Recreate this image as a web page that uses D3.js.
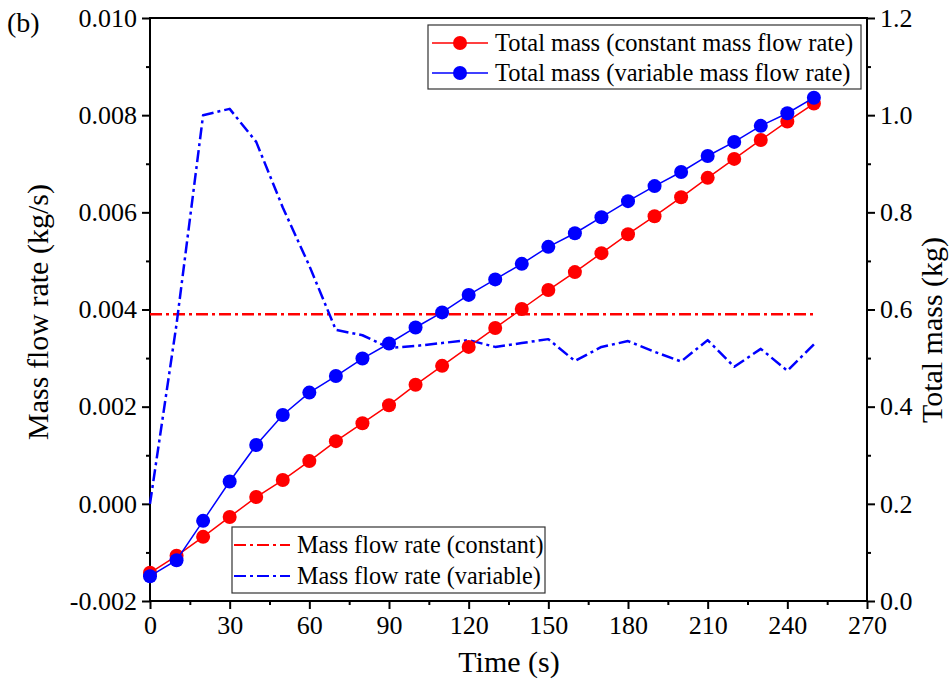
<!DOCTYPE html>
<html>
<head>
<meta charset="utf-8">
<script src="https://cdn.jsdelivr.net/npm/d3@7/dist/d3.min.js"></script>
<style>
  html, body { margin: 0; padding: 0; background: #fff; }
  svg { display: block; }
  text { font-family: "Liberation Serif", "Times New Roman", serif; fill: #000; }
</style>
</head>
<body>
<svg id="chart" width="952" height="682"></svg>
<script>
// Time samples (s)
const times = [0, 10, 20, 30, 40, 50, 60, 70, 80, 90, 100, 110, 120, 130, 140, 150,
               160, 170, 180, 190, 200, 210, 220, 230, 240, 250];

// Mass flow rate (kg/s), left axis
const flowConstant = [0.0039, 0.0039, 0.0039, 0.0039, 0.0039, 0.0039, 0.0039, 0.0039, 0.0039,
                      0.0039, 0.0039, 0.0039, 0.0039, 0.0039, 0.0039, 0.0039, 0.0039, 0.0039,
                      0.0039, 0.0039, 0.0039, 0.0039, 0.0039, 0.0039, 0.0039, 0.0039];
const flowVariable = [0.0000, 0.0037, 0.0080, 0.00813, 0.00745, 0.0061, 0.0049, 0.00358, 0.00347,
                      0.00321, 0.00325, 0.00331, 0.00337, 0.00323, 0.00331, 0.00339, 0.00294,
                      0.00323, 0.00335, 0.00313, 0.00293, 0.00337, 0.00282, 0.00319, 0.00274, 0.00328];

// Total mass (kg), right axis
const massConstant = [0.058, 0.093, 0.132, 0.173, 0.214, 0.249, 0.288, 0.329, 0.366, 0.403,
                      0.445, 0.484, 0.523, 0.562, 0.601, 0.640, 0.677, 0.716, 0.755, 0.792,
                      0.831, 0.871, 0.910, 0.949, 0.987, 1.024];
const massVariable = [0.051, 0.084, 0.165, 0.246, 0.321, 0.383, 0.429, 0.463, 0.499, 0.530,
                      0.563, 0.594, 0.630, 0.662, 0.694, 0.729, 0.757, 0.790, 0.823, 0.854,
                      0.883, 0.916, 0.945, 0.978, 1.004, 1.036];

// Axis ticks
const xTicks = [0, 30, 60, 90, 120, 150, 180, 210, 240, 270];
const xMinor = [15, 45, 75, 105, 135, 165, 195, 225, 255];
const yLeftTicks = [-0.002, 0.000, 0.002, 0.004, 0.006, 0.008, 0.010];
const yLeftMinor = [-0.001, 0.001, 0.003, 0.005, 0.007, 0.009];
const yRightTicks = [0.0, 0.2, 0.4, 0.6, 0.8, 1.0, 1.2];
const yRightMinor = [0.1, 0.3, 0.5, 0.7, 0.9, 1.1];

const legendTop = ["Total mass (constant mass flow rate)", "Total mass (variable mass flow rate)"];
const legendBottom = ["Mass flow rate (constant)", "Mass flow rate (variable)"];

const RED = "#ff0000", BLUE = "#0000ff";
const DASHDOT = "12,4,3,4";
const FONT = '"Liberation Serif", "Times New Roman", serif';

const svg = d3.select("#chart");
const L = 150, R = 867, T = 18, B = 601;

const x = d3.scaleLinear().domain([0, 270]).range([L, R]);
const yL = d3.scaleLinear().domain([-0.002, 0.010]).range([B, T]);
const yR = d3.scaleLinear().domain([0, 1.2]).range([B, T]);

// Frame
svg.append("rect")
  .attr("x", L).attr("y", T).attr("width", R - L).attr("height", B - T)
  .attr("fill", "none").attr("stroke", "#000").attr("stroke-width", 2);

function styleAxis(g, fontSize) {
  g.attr("font-family", FONT);
  g.selectAll(".domain").remove();
  g.selectAll(".tick line").attr("stroke", "#000").attr("stroke-width", 2);
  g.selectAll(".tick text").attr("font-size", fontSize).attr("font-family", FONT);
}

// Bottom axis
const gx = svg.append("g").attr("transform", `translate(0,${B})`)
  .call(d3.axisBottom(x).tickValues(xTicks).tickSize(8).tickPadding(7).tickFormat(d3.format("d")));
styleAxis(gx, 26);
const gxm = svg.append("g").attr("transform", `translate(0,${B})`)
  .call(d3.axisBottom(x).tickValues(xMinor).tickSize(4).tickFormat(""));
styleAxis(gxm, 26);

// Left axis
const gl = svg.append("g").attr("transform", `translate(${L},0)`)
  .call(d3.axisLeft(yL).tickValues(yLeftTicks).tickSize(8).tickPadding(5)
    .tickFormat(d => (Math.abs(d) < 1e-12 ? 0 : d).toFixed(3)));
styleAxis(gl, 26);
const glm = svg.append("g").attr("transform", `translate(${L},0)`)
  .call(d3.axisLeft(yL).tickValues(yLeftMinor).tickSize(4).tickFormat(""));
styleAxis(glm, 26);

// Right axis
const gr = svg.append("g").attr("transform", `translate(${R},0)`)
  .call(d3.axisRight(yR).tickValues(yRightTicks).tickSize(8).tickPadding(5)
    .tickFormat(d => d.toFixed(1)));
styleAxis(gr, 26);
const grm = svg.append("g").attr("transform", `translate(${R},0)`)
  .call(d3.axisRight(yR).tickValues(yRightMinor).tickSize(4).tickFormat(""));
styleAxis(grm, 26);

// Axis titles
svg.append("text").attr("x", 509).attr("y", 672)
  .attr("text-anchor", "middle").attr("font-size", 30).text("Time (s)");
svg.append("text")
  .attr("transform", `translate(48,312) rotate(-90)`)
  .attr("text-anchor", "middle").attr("font-size", 30).text("Mass flow rate (kg/s)");
svg.append("text")
  .attr("transform", `translate(942,330) rotate(-90)`)
  .attr("text-anchor", "middle").attr("font-size", 30).text("Total mass (kg)");
svg.append("text").attr("x", 7).attr("y", 32).attr("font-size", 28).text("(b)");

// Mass flow rate lines (dash-dot)
const flowLine = d3.line().x((d, i) => x(times[i])).y(d => yL(d));
svg.append("path").datum(flowConstant).attr("d", flowLine)
  .attr("fill", "none").attr("stroke", RED).attr("stroke-width", 2.5)
  .attr("stroke-dasharray", DASHDOT);
svg.append("path").datum(flowVariable).attr("d", flowLine)
  .attr("fill", "none").attr("stroke", BLUE).attr("stroke-width", 2.5)
  .attr("stroke-dasharray", DASHDOT).attr("stroke-linejoin", "round");

// Total mass lines with markers
const massLine = d3.line().x((d, i) => x(times[i])).y(d => yR(d));
function drawMass(values, color) {
  svg.append("path").datum(values).attr("d", massLine)
    .attr("fill", "none").attr("stroke", color).attr("stroke-width", 1.5);
  svg.append("g").selectAll("circle").data(values).join("circle")
    .attr("cx", (d, i) => x(times[i])).attr("cy", d => yR(d))
    .attr("r", 7).attr("fill", color);
}
drawMass(massConstant, RED);
drawMass(massVariable, BLUE);

// Top legend (total mass)
const lt = svg.append("g");
lt.append("rect").attr("x", 428).attr("y", 25).attr("width", 433).attr("height", 64)
  .attr("fill", "#fff").attr("stroke", "#333").attr("stroke-width", 1.2);
[RED, BLUE].forEach((c, i) => {
  const yy = 43 + i * 30;
  lt.append("line").attr("x1", 432).attr("x2", 488).attr("y1", yy).attr("y2", yy)
    .attr("stroke", c).attr("stroke-width", 1.5);
  lt.append("circle").attr("cx", 460).attr("cy", yy).attr("r", 7).attr("fill", c);
  lt.append("text").attr("x", 495).attr("y", yy).attr("dy", "0.34em")
    .attr("font-size", 24.5).text(legendTop[i]);
});

// Bottom legend (mass flow rate)
const lb = svg.append("g");
lb.append("rect").attr("x", 232).attr("y", 527).attr("width", 313).attr("height", 66)
  .attr("fill", "#fff").attr("stroke", "#333").attr("stroke-width", 1.2);
[RED, BLUE].forEach((c, i) => {
  const yy = 545 + i * 31;
  lb.append("line").attr("x1", 234).attr("x2", 290).attr("y1", yy).attr("y2", yy)
    .attr("stroke", c).attr("stroke-width", 2).attr("stroke-dasharray", DASHDOT);
  lb.append("text").attr("x", 297).attr("y", yy).attr("dy", "0.34em")
    .attr("font-size", 24.2).text(legendBottom[i]);
});
</script>
</body>
</html>
